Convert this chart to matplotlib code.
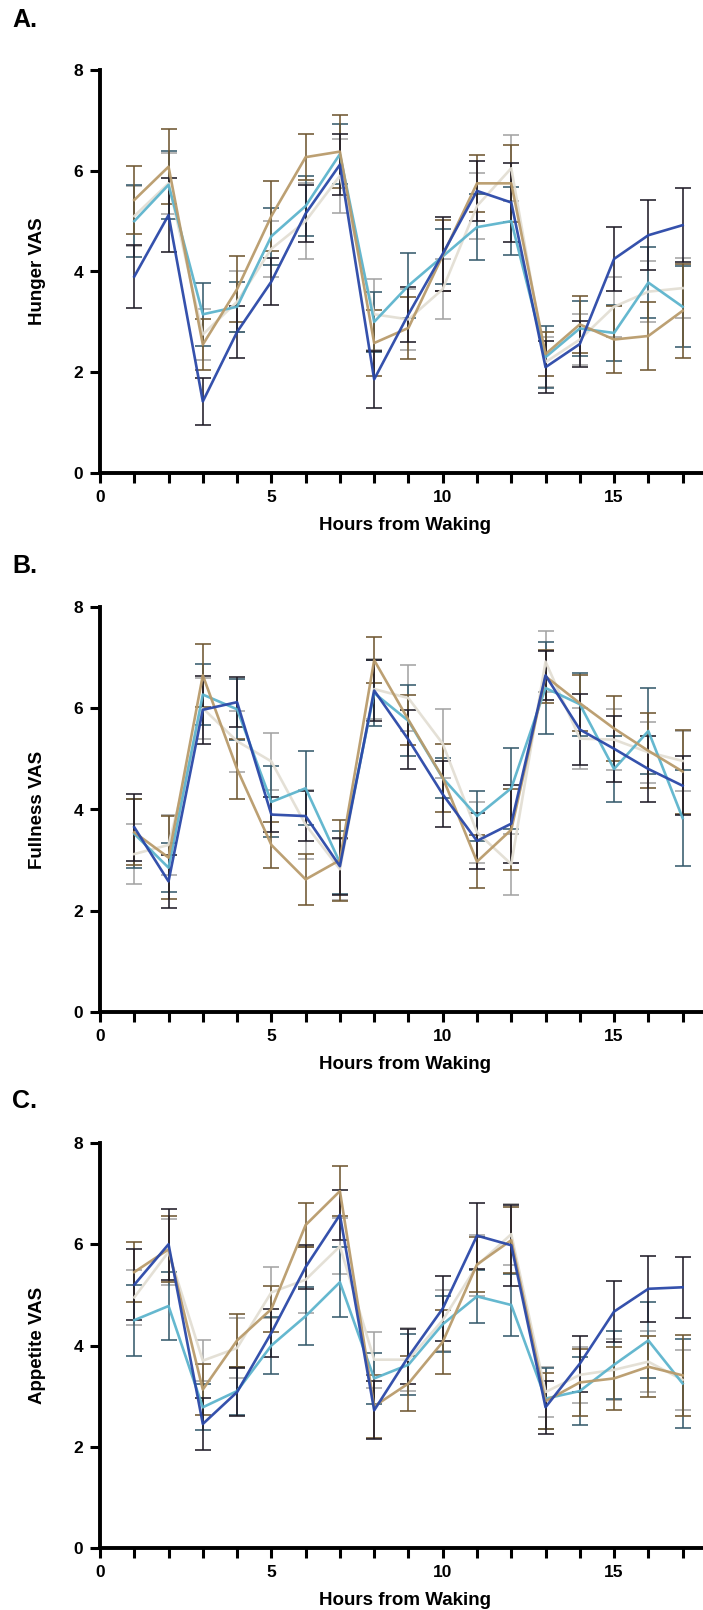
import numpy as np
import matplotlib
matplotlib.use("Agg")
import matplotlib.pyplot as plt

matplotlib.rcParams.update({'font.family': 'Liberation Sans', 'font.weight': 'bold'})

hours = np.arange(1, 18)
groups = ["beige", "cyan", "tan", "blue"]

# Hunger VAS (mean, sem)
hunger_blue = [3.9, 5.12, 1.42, 2.8, 3.8, 5.15, 6.12, 1.86, 3.15, 4.35, 5.6, 5.37, 2.1, 2.56, 4.25, 4.72, 4.92]
hunger_blue_sem = [0.62, 0.73, 0.47, 0.52, 0.47, 0.57, 0.6, 0.56, 0.55, 0.73, 0.6, 0.78, 0.52, 0.45, 0.64, 0.7, 0.74]
hunger_cyan = [5.0, 5.72, 3.15, 3.3, 4.7, 5.3, 6.33, 3.0, 3.72, 4.3, 4.88, 5.0, 2.3, 2.87, 2.78, 3.78, 3.3]
hunger_cyan_sem = [0.72, 0.68, 0.62, 0.5, 0.57, 0.6, 0.6, 0.6, 0.65, 0.55, 0.65, 0.68, 0.62, 0.55, 0.55, 0.7, 0.8]
hunger_tan = [5.42, 6.08, 2.55, 3.65, 5.1, 6.27, 6.38, 2.58, 2.88, 4.32, 5.75, 5.75, 2.36, 2.95, 2.65, 2.72, 3.22]
hunger_tan_sem = [0.67, 0.74, 0.5, 0.65, 0.7, 0.46, 0.73, 0.65, 0.62, 0.7, 0.57, 0.77, 0.43, 0.57, 0.67, 0.67, 0.93]
hunger_beige = [5.1, 5.75, 2.75, 3.4, 4.45, 5.0, 5.9, 3.15, 3.05, 3.65, 5.3, 6.05, 2.2, 2.65, 3.3, 3.6, 3.67]
hunger_beige_sem = [0.6, 0.6, 0.5, 0.6, 0.55, 0.76, 0.73, 0.7, 0.6, 0.6, 0.65, 0.65, 0.5, 0.5, 0.6, 0.6, 0.6]

# Fullness VAS
full_blue = [3.65, 2.58, 5.97, 6.12, 3.9, 3.87, 2.88, 6.35, 5.38, 4.3, 3.38, 3.72, 6.65, 5.58, 5.2, 4.8, 4.47]
full_blue_sem = [0.66, 0.52, 0.67, 0.5, 0.34, 0.5, 0.56, 0.6, 0.58, 0.65, 0.56, 0.77, 0.48, 0.7, 0.65, 0.65, 0.58]
full_cyan = [3.52, 2.85, 6.27, 5.98, 4.15, 4.42, 2.95, 6.3, 5.75, 4.62, 3.87, 4.42, 6.4, 6.08, 4.8, 5.55, 3.83]
full_cyan_sem = [0.68, 0.48, 0.6, 0.6, 0.7, 0.73, 0.62, 0.65, 0.7, 0.4, 0.5, 0.8, 0.9, 0.62, 0.65, 0.85, 0.95]
full_tan = [3.55, 3.05, 6.65, 4.8, 3.3, 2.62, 3.0, 6.95, 5.77, 4.63, 2.97, 3.6, 6.63, 6.1, 5.6, 5.16, 4.75]
full_tan_sem = [0.65, 0.82, 0.62, 0.6, 0.45, 0.51, 0.8, 0.45, 0.5, 0.67, 0.53, 0.8, 0.52, 0.55, 0.65, 0.74, 0.83]
full_beige = [3.12, 3.3, 6.0, 5.35, 4.95, 3.7, 2.82, 6.38, 6.2, 5.3, 3.55, 2.92, 6.92, 5.4, 5.38, 5.13, 4.96]
full_beige_sem = [0.6, 0.6, 0.6, 0.6, 0.57, 0.68, 0.6, 0.6, 0.65, 0.68, 0.6, 0.6, 0.6, 0.6, 0.6, 0.6, 0.6]

# Appetite VAS
app_blue = [5.2, 6.0, 2.45, 3.08, 4.25, 5.55, 6.58, 2.72, 3.78, 4.73, 6.17, 5.98, 2.78, 3.64, 4.67, 5.12, 5.15]
app_blue_sem = [0.7, 0.7, 0.51, 0.48, 0.48, 0.44, 0.49, 0.57, 0.55, 0.65, 0.65, 0.8, 0.52, 0.55, 0.6, 0.65, 0.6]
app_cyan = [4.5, 4.78, 2.78, 3.1, 4.0, 4.58, 5.25, 3.35, 3.62, 4.42, 4.97, 4.8, 2.95, 3.1, 3.62, 4.1, 3.25]
app_cyan_sem = [0.7, 0.68, 0.45, 0.47, 0.57, 0.57, 0.69, 0.5, 0.6, 0.55, 0.52, 0.62, 0.6, 0.68, 0.67, 0.75, 0.88]
app_tan = [5.45, 5.9, 3.13, 4.1, 4.72, 6.38, 7.05, 2.8, 3.25, 4.07, 5.6, 6.08, 2.9, 3.27, 3.35, 3.58, 3.41]
app_tan_sem = [0.6, 0.65, 0.5, 0.52, 0.45, 0.44, 0.5, 0.62, 0.55, 0.63, 0.55, 0.65, 0.55, 0.66, 0.62, 0.6, 0.8]
app_beige = [4.95, 5.85, 3.7, 3.95, 5.05, 5.3, 5.96, 3.72, 3.72, 4.5, 5.58, 6.2, 3.08, 3.42, 3.52, 3.68, 3.32]
app_beige_sem = [0.55, 0.65, 0.4, 0.6, 0.5, 0.65, 0.55, 0.55, 0.62, 0.6, 0.6, 0.6, 0.5, 0.55, 0.6, 0.6, 0.6]

line_colors = {"beige": "#e3dfd4", "cyan": "#5db4cd", "tan": "#b99b6b", "blue": "#2a48a8"}
err_colors = {"beige": "#a3a3a3", "cyan": "#355a6b", "tan": "#6e5630", "blue": "#1e1a26"}

panels = [
    ("A.", "Hunger VAS",
     {"beige": (hunger_beige, hunger_beige_sem), "cyan": (hunger_cyan, hunger_cyan_sem),
      "tan": (hunger_tan, hunger_tan_sem), "blue": (hunger_blue, hunger_blue_sem)}),
    ("B.", "Fullness VAS",
     {"beige": (full_beige, full_beige_sem), "cyan": (full_cyan, full_cyan_sem),
      "tan": (full_tan, full_tan_sem), "blue": (full_blue, full_blue_sem)}),
    ("C.", "Appetite VAS",
     {"beige": (app_beige, app_beige_sem), "cyan": (app_cyan, app_cyan_sem),
      "tan": (app_tan, app_tan_sem), "blue": (app_blue, app_blue_sem)}),
]

W, H = 703, 1610
fig = plt.figure(figsize=(W / 100, H / 100), dpi=100)

# (top, bottom) of each axes in pixels, label y position
ax_px = [(70, 473, 20), (607, 1012, 566), (1143, 1548, 1101)]
left_px = 100

for (tag, ylab, data), (top, bot, ty) in zip(panels, ax_px):
    ax = fig.add_axes([left_px / W, (H - bot) / H, (W - left_px) / W + 0.01, (bot - top) / H])
    for g in groups:
        mean, sem = data[g]
        ax.errorbar(hours, mean, yerr=sem, color=line_colors[g], ecolor=err_colors[g],
                    elinewidth=1.2, capsize=6, capthick=1.2, lw=1.9, alpha=0.95,
                    clip_on=False)
    ax.set_xlim(0, 17.8)
    ax.set_ylim(0, 8)
    ax.set_xticks([0, 5, 10, 15])
    ax.set_xticks(np.arange(1, 18), minor=True)
    ax.set_yticks([0, 2, 4, 6, 8])
    for s in ["top", "right"]:
        ax.spines[s].set_visible(False)
    for s in ["left", "bottom"]:
        ax.spines[s].set_linewidth(2.8)
    ax.tick_params(which="both", direction="out", length=7, width=2.2, labelsize=12.5, pad=5)
    ax.set_xlabel("Hours from Waking", fontsize=13.5, fontweight="bold", labelpad=9)
    ax.set_ylabel(ylab, fontsize=13.5, fontweight="bold", labelpad=20)
    fig.text(12 / W, 1 - ty / H, tag, fontsize=18, fontweight="bold", va="center", ha="left")

fig.savefig("out.png", dpi=100)
